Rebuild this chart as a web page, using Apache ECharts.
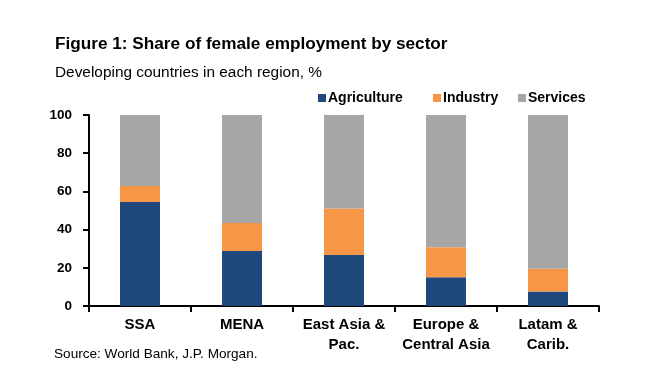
<!DOCTYPE html>
<html><head><meta charset="utf-8">
<script src="https://cdn.jsdelivr.net/npm/echarts@6/dist/echarts.min.js"></script>
<style>html,body{margin:0;padding:0;background:#fff}#c{width:664px;height:380px}</style>
</head><body><div id="c"></div>
<script>
var categories = ['SSA', 'MENA', 'East Asia &\nPac.', 'Europe &\nCentral Asia', 'Latam &\nCarib.'];
var agriculture = [54.4, 28.8, 26.7, 15.1, 7.6];
var industry = [8.4, 14.7, 24.4, 15.6, 11.9];
var services = [37.2, 56.5, 48.9, 69.3, 80.5];
var yTicks = [0, 20, 40, 60, 80, 100];

var F = "'Liberation Sans',Arial,sans-serif";
var chart = echarts.init(document.getElementById('c'), null, {renderer: 'canvas'});
function s(name, data, color) {
  return {name: name, type: 'bar', stack: 'a', data: data, barWidth: 40,
    itemStyle: {color: color}, emphasis: {disabled: true}};
}
function lg(name, left) {
  return {left: left, top: 86, itemWidth: 8, itemHeight: 8, icon: 'rect', itemGap: 0,
    textStyle: {fontFamily: F, fontSize: 14, fontWeight: 'bold', color: '#000', padding: [0,0,0,-3]},
    data: [name]};
}
chart.setOption({
  animation: false,
  textStyle: {fontFamily: F},
  title: [
    {text: 'Figure 1: Share of female employment by sector', left: 50, top: 31,
      textStyle: {fontFamily: F, fontSize: 17.2, fontWeight: 'bold', color: '#000'}},
    {text: 'Developing countries in each region, %', left: 50, top: 60,
      textStyle: {fontFamily: F, fontSize: 15.4, fontWeight: 'normal', color: '#000'}},
    {text: 'Source: World Bank, J.P. Morgan.', left: 49, top: 342,
      textStyle: {fontFamily: F, fontSize: 13.6, fontWeight: 'normal', color: '#000'}}
  ],
  legend: [lg('Agriculture', 313), lg('Industry', 428), lg('Services', 513)],
  grid: {left: 89, right: 65, top: 115, bottom: 74, containLabel: false},
  xAxis: {type: 'category', data: categories,
    axisLine: {lineStyle: {color: '#000', width: 2}},
    axisTick: {show: true, length: 6, lineStyle: {color: '#000', width: 2}},
    axisLabel: {fontFamily: F, fontSize: 15, fontWeight: 'bold', color: '#000', margin: 9, lineHeight: 20, interval: 0}},
  yAxis: {type: 'value', min: yTicks[0], max: yTicks[yTicks.length-1], interval: 20,
    splitLine: {show: false},
    axisLine: {show: true, lineStyle: {color: '#000', width: 2}},
    axisTick: {show: true, length: 6, lineStyle: {color: '#000', width: 2}},
    axisLabel: {fontFamily: F, fontSize: 13.5, fontWeight: 'bold', color: '#000', margin: 17}},
  series: [
    s('Agriculture', agriculture, '#1f497d'),
    s('Industry', industry, '#f79646'),
    s('Services', services, '#a6a6a6')
  ]
});
</script></body></html>
